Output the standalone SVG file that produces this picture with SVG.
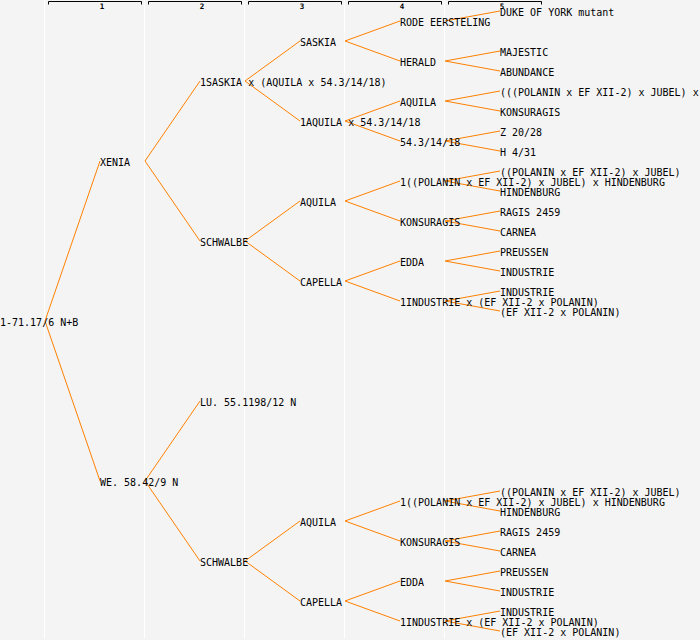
<svg xmlns="http://www.w3.org/2000/svg" width="700" height="640" viewBox="0 0 700 640">
<style>
text{font-family:"DejaVu Sans Mono","Liberation Mono",monospace;font-size:10px;fill:#000}
.hd{font-size:7.5px;font-weight:bold;text-anchor:middle}
.br{fill:none;stroke:#000;stroke-width:1}
.sep{fill:#fff}
#connectors path{fill:none;stroke:#ff8000;stroke-width:1}
</style>
<rect width="700" height="640" fill="#f4f4f4"/>
<g id="columns">
<rect class="sep" x="44" y="0" width="1" height="638"/>
<rect class="sep" x="144" y="0" width="1" height="638"/>
<rect class="sep" x="244" y="0" width="1" height="638"/>
<rect class="sep" x="344" y="0" width="1" height="638"/>
<rect class="sep" x="444" y="0" width="1" height="638"/>
<path class="br" d="M48.5,4.5V1.5H141.5V4.5M148.5,4.5V1.5H241.5V4.5M248.5,4.5V1.5H341.5V4.5M348.5,4.5V1.5H441.5V4.5M448.5,4.5V1.5H541.5V4.5"/>
<text class="hd" x="102" y="8.5">1</text>
<text class="hd" x="202" y="8.5">2</text>
<text class="hd" x="302" y="8.5">3</text>
<text class="hd" x="402" y="8.5">4</text>
<text class="hd" x="502" y="8.5">5</text>
</g>
<g id="connectors">
<path d="M45,321L100,161M45,321L100,481"/>
<path d="M145,161L200,81M145,161L200,241M145,481L200,401M145,481L200,561"/>
<path d="M245,81L300,41M245,81L300,121M245,241L300,201M245,241L300,281M245,561L300,521M245,561L300,601"/>
<path d="M345,41L400,21M345,41L400,61M345,121L400,101M345,121L400,141M345,201L400,181M345,201L400,221M345,281L400,261M345,281L400,301M345,521L400,501M345,521L400,541M345,601L400,581M345,601L400,621"/>
<path d="M445,21L500,11M445,61L500,51M445,61L500,71M445,101L500,91M445,101L500,111M445,141L500,131M445,141L500,151M445,181L500,171M445,181L500,191M445,221L500,211M445,221L500,231M445,261L500,251M445,261L500,271M445,301L500,291M445,301L500,311"/>
<path d="M445,501L500,491M445,501L500,511M445,541L500,531M445,541L500,551M445,581L500,571M445,581L500,591M445,621L500,611M445,621L500,631"/>
</g>
<g id="n-root"><text x="0" y="326">1-71.17/6 N+B</text></g>
<g id="n-xenia"><text x="100" y="166">XENIA</text></g>
<g id="n-we"><text x="100" y="486">WE. 58.42/9 N</text></g>
<g id="n-1saskia"><text x="200" y="86">1SASKIA x (AQUILA x 54.3/14/18)</text></g>
<g id="n-schwalbe1"><text x="200" y="246">SCHWALBE</text></g>
<g id="n-lu"><text x="200" y="406">LU. 55.1198/12 N</text></g>
<g id="n-schwalbe2"><text x="200" y="566">SCHWALBE</text></g>
<g id="n-saskia"><text x="300" y="46">SASKIA</text></g>
<g id="n-1aquila"><text x="300" y="126">1AQUILA x 54.3/14/18</text></g>
<g id="n-aquila1"><text x="300" y="206">AQUILA</text></g>
<g id="n-capella1"><text x="300" y="286">CAPELLA</text></g>
<g id="n-aquila2"><text x="300" y="526">AQUILA</text></g>
<g id="n-capella2"><text x="300" y="606">CAPELLA</text></g>
<g id="n-rode"><text x="400" y="26">RODE EERSTELING</text></g>
<g id="n-herald"><text x="400" y="66">HERALD</text></g>
<g id="n-aquila3"><text x="400" y="106">AQUILA</text></g>
<g id="n-543"><text x="400" y="146">54.3/14/18</text></g>
<g id="n-1pol1"><text x="400" y="186">1((POLANIN x EF XII-2) x JUBEL) x HINDENBURG</text></g>
<g id="n-kons1"><text x="400" y="226">KONSURAGIS</text></g>
<g id="n-edda1"><text x="400" y="266">EDDA</text></g>
<g id="n-1ind1"><text x="400" y="306">1INDUSTRIE x (EF XII-2 x POLANIN)</text></g>
<g id="n-1pol2"><text x="400" y="506">1((POLANIN x EF XII-2) x JUBEL) x HINDENBURG</text></g>
<g id="n-kons2"><text x="400" y="546">KONSURAGIS</text></g>
<g id="n-edda2"><text x="400" y="586">EDDA</text></g>
<g id="n-1ind2"><text x="400" y="626">1INDUSTRIE x (EF XII-2 x POLANIN)</text></g>
<g id="n-duke"><text x="500" y="16">DUKE OF YORK mutant</text></g>
<g id="n-majestic"><text x="500" y="56">MAJESTIC</text></g>
<g id="n-abundance"><text x="500" y="76">ABUNDANCE</text></g>
<g id="n-ppol"><text x="500" y="96">(((POLANIN x EF XII-2) x JUBEL) x</text></g>
<g id="n-kons3"><text x="500" y="116">KONSURAGIS</text></g>
<g id="n-z"><text x="500" y="136">Z 20/28</text></g>
<g id="n-h"><text x="500" y="156">H 4/31</text></g>
<g id="n-pol1"><text x="500" y="176">((POLANIN x EF XII-2) x JUBEL)</text></g>
<g id="n-hind1"><text x="500" y="196">HINDENBURG</text></g>
<g id="n-ragis1"><text x="500" y="216">RAGIS 2459</text></g>
<g id="n-carnea1"><text x="500" y="236">CARNEA</text></g>
<g id="n-preussen1"><text x="500" y="256">PREUSSEN</text></g>
<g id="n-ind1"><text x="500" y="276">INDUSTRIE</text></g>
<g id="n-ind2"><text x="500" y="296">INDUSTRIE</text></g>
<g id="n-ef1"><text x="500" y="316">(EF XII-2 x POLANIN)</text></g>
<g id="n-pol2"><text x="500" y="496">((POLANIN x EF XII-2) x JUBEL)</text></g>
<g id="n-hind2"><text x="500" y="516">HINDENBURG</text></g>
<g id="n-ragis2"><text x="500" y="536">RAGIS 2459</text></g>
<g id="n-carnea2"><text x="500" y="556">CARNEA</text></g>
<g id="n-preussen2"><text x="500" y="576">PREUSSEN</text></g>
<g id="n-ind3"><text x="500" y="596">INDUSTRIE</text></g>
<g id="n-ind4"><text x="500" y="616">INDUSTRIE</text></g>
<g id="n-ef2"><text x="500" y="636">(EF XII-2 x POLANIN)</text></g>
</svg>
